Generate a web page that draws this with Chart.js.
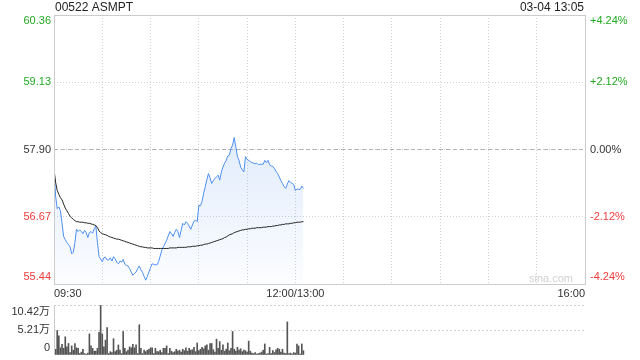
<!DOCTYPE html>
<html>
<head>
<meta charset="utf-8">
<script src="https://cdn.jsdelivr.net/npm/chart.js@4.4.1/dist/chart.umd.min.js"></script>
<style>
    body { margin: 0; background: #fff; }
    #wrap { position: relative; width: 640px; height: 360px; }
    #price-chart { position: absolute; left: 0; top: 0; }
    #volume-chart { position: absolute; left: 0; top: 290px; }
</style>
</head>
<body>
<div id="wrap">
    <canvas id="price-chart" width="640" height="300"></canvas>
    <canvas id="volume-chart" width="640" height="70"></canvas>
</div>
<script>
// header
var stockName = '00522 ASMPT'
var timeStamp = '03-04 13:05'
var prevClose = 57.90

// price axis
var priceTicks = [55.44, 56.67, 57.90, 59.13, 60.36]
var pctLabels = ['-4.24%', '-2.12%', '0.00%', '+2.12%', '+4.24%']
var tickColors = ['#f03c3c', '#f03c3c', '#333333', '#22aa22', '#22aa22']

// time axis, minutes from 09:30 (lunch break removed)
var gridMinutes = [0, 30, 60, 90, 120, 150, 180, 210, 240, 270, 300, 330]
var timeLabels = { 0: '09:30', 150: '12:00/13:00', 330: '16:00' }

// volume axis (万)
var volTicks = [0, 5.21, 10.42]
var volLabels = ['0', '5.21万', '10.42万']

// one value per minute, 09:30 .. 13:05
var price = [
    57.54, 57.05, 56.82, 56.85, 56.78, 56.55, 56.31, 56.25, 56.20, 56.16,
    56.12, 55.99, 56.02, 56.20, 56.44, 56.40, 56.43, 56.40, 56.36, 56.42,
    56.38, 56.29, 56.38, 56.40, 56.37, 56.45, 56.50, 56.20, 55.94, 55.90,
    55.85, 55.92, 55.93, 55.88, 55.88, 55.92, 55.86, 55.94, 55.90, 55.84,
    55.81, 55.86, 55.84, 55.89, 55.80, 55.78, 55.77, 55.72, 55.66, 55.60,
    55.63, 55.66, 55.72, 55.77, 55.70, 55.65, 55.58, 55.51, 55.58, 55.66,
    55.74, 55.81, 55.80, 55.79, 55.79, 55.85, 55.95, 56.06, 56.12, 56.18,
    56.24, 56.32, 56.40, 56.36, 56.31, 56.38, 56.44, 56.40, 56.29, 56.42,
    56.55, 56.52, 56.58, 56.55, 56.50, 56.44, 56.52, 56.59, 56.61, 56.58,
    56.88, 56.87, 56.95, 57.10, 57.22, 57.35, 57.46, 57.38, 57.28, 57.33,
    57.37, 57.40, 57.43, 57.34, 57.49, 57.58, 57.65, 57.70, 57.78, 57.80,
    57.92, 57.98, 58.12, 57.95, 57.77, 57.70, 57.58, 57.53, 57.49, 57.77,
    57.72, 57.70, 57.68, 57.66, 57.65, 57.64, 57.65, 57.62, 57.63, 57.63,
    57.63, 57.70, 57.66, 57.70, 57.62, 57.60, 57.59, 57.55, 57.50, 57.46,
    57.40, 57.33, 57.28, 57.22, 57.19, 57.27, 57.33, 57.30, 57.28, 57.26,
    57.15, 57.18, 57.17, 57.17, 57.23, 57.19
]

var avgPrice = [
    57.54, 57.30, 57.15, 57.08, 57.02, 56.98, 56.90, 56.83, 56.78, 56.73,
    56.68, 56.65, 56.62, 56.60, 56.58, 56.58, 56.57, 56.57, 56.57, 56.56,
    56.56, 56.55, 56.55, 56.54, 56.53, 56.52, 56.51, 56.47, 56.41, 56.38,
    56.36, 56.35, 56.34, 56.33, 56.31, 56.30, 56.29, 56.28, 56.27, 56.26,
    56.26, 56.25, 56.24, 56.23, 56.22, 56.21, 56.20, 56.19, 56.18, 56.17,
    56.16, 56.15, 56.14, 56.13, 56.12, 56.12, 56.11, 56.11, 56.10, 56.10,
    56.10, 56.10, 56.09, 56.09, 56.09, 56.09, 56.09, 56.09, 56.09, 56.09,
    56.09, 56.09, 56.10, 56.10, 56.10, 56.10, 56.10, 56.11, 56.11, 56.11,
    56.11, 56.11, 56.11, 56.12, 56.12, 56.12, 56.13, 56.13, 56.13, 56.14,
    56.14, 56.15, 56.15, 56.16, 56.17, 56.17, 56.18, 56.19, 56.20, 56.21,
    56.22, 56.23, 56.24, 56.25, 56.26, 56.27, 56.29, 56.30, 56.32, 56.34,
    56.35, 56.36, 56.38, 56.39, 56.40, 56.41, 56.42, 56.43, 56.43, 56.44,
    56.44, 56.45, 56.45, 56.46, 56.46, 56.46, 56.47, 56.47, 56.47, 56.47,
    56.48, 56.48, 56.48, 56.49, 56.49, 56.49, 56.50, 56.50, 56.51, 56.51,
    56.52, 56.52, 56.53, 56.53, 56.54, 56.54, 56.54, 56.55, 56.55, 56.56,
    56.56, 56.57, 56.57, 56.57, 56.58, 56.58
]

var volume = [
    2.4, 1.2, 5.1, 4.0, 1.5, 2.2, 1.4, 3.8, 1.7, 2.4,
    0.5, 1.9, 1.0, 2.4, 1.5, 1.4, 0.3, 0.6, 1.2, 0.3,
    0.15, 0.4, 4.4, 1.9, 1.4, 0.8, 0.8, 1.4, 4.7, 10.42,
    4.4, 1.7, 3.1, 5.7, 0.3, 0.7, 0.5, 3.4, 0.7, 1.0,
    2.1, 1.0, 0.3, 4.9, 1.4, 0.7, 1.0, 1.7, 1.5, 2.2,
    1.5, 2.1, 0.3, 6.3, 1.4, 0.3, 1.0, 0.7, 1.0, 1.2,
    1.5, 1.5, 0.3, 1.4, 0.7, 0.7, 1.0, 0.5, 1.4, 1.4,
    1.9, 0.3, 1.4, 0.8, 0.5, 0.7, 1.2, 0.8, 1.0, 0.6,
    1.2, 0.9, 1.5, 0.8, 1.4, 1.0, 1.1, 1.6, 0.7, 2.5,
    0.9, 1.2, 1.6, 1.3, 1.9, 2.1, 1.0, 2.4, 2.4, 1.1,
    0.6, 3.3, 1.4, 2.8, 1.0, 2.1, 0.8, 1.2, 2.5, 0.9,
    1.4, 4.9, 1.2, 0.8, 1.6, 1.0, 1.3, 0.7, 1.0, 0.9,
    0.6, 2.9, 0.8, 0.4, 0.3, 0.5, 0.2, 0.3, 0.4, 0.6,
    1.0, 2.3, 0.2, 0.3, 1.6, 0.3, 0.9, 0.5, 1.1, 1.4,
    1.2, 0.6, 1.2, 0.4, 0.3, 6.9, 0.3, 0.4, 0.2, 0.5,
    0.4, 2.3, 1.9, 0.2, 2.3, 0.9
]

var fontFamily = 'Arial, "Liberation Sans", "Noto Sans CJK SC", sans-serif'
var gridColor = '#d2d2d2'

function toPoints(arr) {
    return arr.map(function (v, i) { return { x: i, y: v } })
}

// labels, frame and header for the price panel
var pricePlugin = {
    id: 'priceExtras',
    afterDraw: function (chart) {
        var c = chart.ctx
        var a = chart.chartArea
        var y = chart.scales.y
        c.save()
        c.strokeStyle = '#cccccc'
        c.lineWidth = 1
        c.strokeRect(Math.round(a.left) + 0.5, Math.round(a.top) + 0.5,
            Math.round(a.right - a.left), Math.round(a.bottom - a.top))

        c.font = '11px ' + fontFamily
        c.textBaseline = 'middle'
        priceTicks.forEach(function (v, k) {
            var py = y.getPixelForValue(v)
            if (k === 0) py -= 7
            if (k === priceTicks.length - 1) py += 6
            c.fillStyle = tickColors[k]
            c.textAlign = 'right'
            c.fillText(v.toFixed(2), a.left - 3, py)
            c.textAlign = 'left'
            c.fillText(pctLabels[k], a.right + 5, py)
        })

        c.font = '12px ' + fontFamily
        c.fillStyle = '#222222'
        c.textAlign = 'left'
        c.fillText(stockName, a.left + 1, 8)
        c.textAlign = 'right'
        c.fillText(timeStamp, a.right - 1, 8)

        c.font = '11px ' + fontFamily
        c.fillStyle = '#d0d0d0'
        c.fillText('sina.com', a.right - 12, a.bottom - 5)
        c.restore()
    }
}

var volumePlugin = {
    id: 'volumeExtras',
    afterDraw: function (chart) {
        var c = chart.ctx
        var a = chart.chartArea
        var y = chart.scales.y
        c.save()
        c.strokeStyle = '#cccccc'
        c.lineWidth = 1
        c.beginPath()
        c.moveTo(Math.round(a.left) + 0.5, a.top)
        c.lineTo(Math.round(a.left) + 0.5, a.bottom)
        c.stroke()

        c.font = '11px ' + fontFamily
        c.textBaseline = 'middle'
        c.textAlign = 'right'
        c.fillStyle = '#333333'
        volTicks.forEach(function (v, k) {
            var py = y.getPixelForValue(v)
            if (k === 0) py -= 7
            if (k === volTicks.length - 1) py += 7
            c.fillText(volLabels[k], a.left - 4, py)
        })
        c.restore()
    }
}

const priceChart = new Chart(document.getElementById('price-chart'), {
    type: 'line',
    data: {
        datasets: [{
            label: 'price',
            data: toPoints(price),
            borderColor: '#4d8ef0',
            borderWidth: 1,
            pointRadius: 0,
            tension: 0,
            fill: 'start',
            backgroundColor: function (ctx) {
                var area = ctx.chart.chartArea
                if (!area) return 'rgba(77,142,240,0.1)'
                var g = ctx.chart.ctx.createLinearGradient(0, area.top + 120, 0, area.bottom)
                g.addColorStop(0, 'rgba(77,142,240,0.17)')
                g.addColorStop(1, 'rgba(77,142,240,0.02)')
                return g
            },
            order: 1
        }, {
            label: 'average',
            data: toPoints(avgPrice),
            borderColor: '#222222',
            borderWidth: 1,
            pointRadius: 0,
            tension: 0,
            fill: false,
            order: 0
        }, {
            label: 'prev close',
            data: [{ x: 0, y: prevClose }, { x: 330, y: prevClose }],
            borderColor: '#b4b4b4',
            borderWidth: 1,
            borderDash: [4, 3],
            pointRadius: 0,
            fill: false,
            order: 2
        }]
    },
    options: {
        responsive: false,
        animation: false,
        devicePixelRatio: 1,
        layout: { padding: { top: 15, right: 55, left: 0, bottom: 0 } },
        plugins: { legend: { display: false }, tooltip: { enabled: false } },
        scales: {
            x: {
                type: 'linear',
                min: 0,
                max: 330,
                afterBuildTicks: function (s) {
                    s.ticks = gridMinutes.map(function (v) { return { value: v } })
                },
                afterFit: function (s) { s.height = 16 },
                ticks: {
                    autoSkip: false,
                    maxRotation: 0,
                    align: 'inner',
                    padding: 3,
                    color: '#333333',
                    font: { size: 11, family: fontFamily },
                    callback: function (v) { return timeLabels[v] || '' }
                },
                grid: { color: gridColor, drawTicks: false },
                border: { display: false, dash: [1, 2] }
            },
            y: {
                min: 55.44,
                max: 60.36,
                afterBuildTicks: function (s) {
                    s.ticks = priceTicks.map(function (v) { return { value: v } })
                },
                afterFit: function (s) { s.width = 54 },
                ticks: { display: false },
                grid: { color: gridColor, drawTicks: false },
                border: { display: false, dash: [1, 2] }
            }
        }
    },
    plugins: [pricePlugin]
})

const volumeChart = new Chart(document.getElementById('volume-chart'), {
    type: 'bar',
    data: {
        datasets: [{
            label: 'volume',
            data: toPoints(volume),
            backgroundColor: '#555555',
            barThickness: 1
        }]
    },
    options: {
        responsive: false,
        animation: false,
        devicePixelRatio: 1,
        layout: { padding: { top: 15, right: 55, left: 0, bottom: 5 } },
        plugins: { legend: { display: false }, tooltip: { enabled: false } },
        scales: {
            x: {
                type: 'linear',
                min: 0,
                max: 330,
                offset: false,
                display: false,
                grid: { offset: false }
            },
            y: {
                min: 0,
                max: 10.42,
                afterBuildTicks: function (s) {
                    s.ticks = volTicks.map(function (v) { return { value: v } })
                },
                afterFit: function (s) { s.width = 54 },
                ticks: { display: false },
                grid: {
                    color: function (ctx) { return ctx.tick && ctx.tick.value === 0 ? 'rgba(0,0,0,0)' : gridColor },
                    drawTicks: false
                },
                border: { display: false, dash: [2, 2] }
            }
        }
    },
    plugins: [volumePlugin]
})
</script>
</body>
</html>
